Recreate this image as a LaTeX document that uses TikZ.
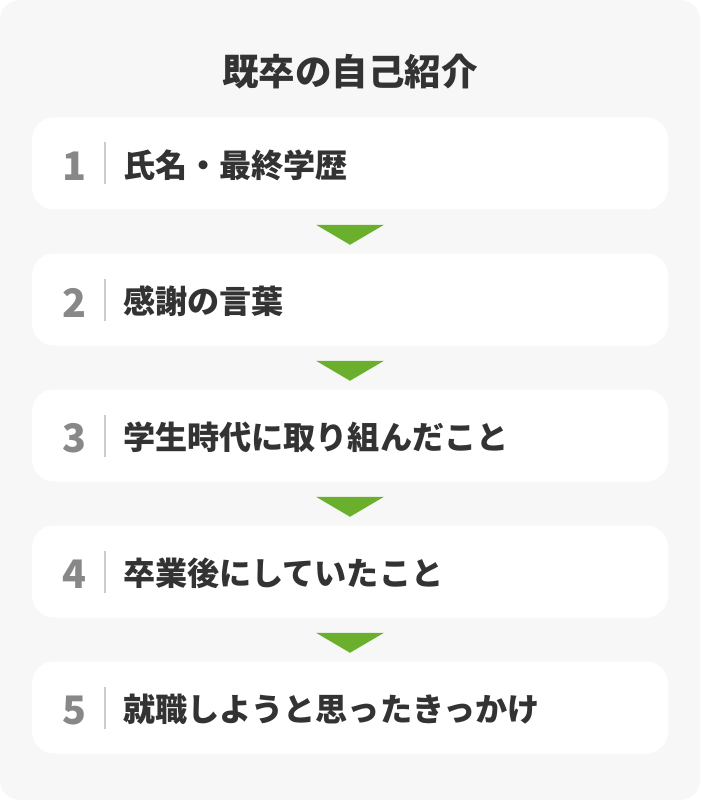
\documentclass[tikz,border=0pt]{standalone}
\usepackage{fontspec}
\newfontfamily\jpfont{Noto Sans CJK JP}
\usetikzlibrary{positioning,calc}
\definecolor{panelgray}{HTML}{F7F7F7}
\definecolor{textdark}{HTML}{333333}
\definecolor{numgray}{HTML}{888888}
\definecolor{linegray}{HTML}{CCCCCC}
\definecolor{arrowgreen}{HTML}{6AB02C}

\begin{document}
\begin{tikzpicture}[x=0.75pt,y=-0.75pt,
    titletext/.style={font=\jpfont\bfseries\fontsize{27.4pt}{31pt}\selectfont,text=textdark},
    itembox/.style={fill=white,rounded corners=16.5pt,minimum width=477pt,minimum height=69pt,inner sep=0pt},
    itemnum/.style={font=\jpfont\bfseries\fontsize{29.5pt}{33pt}\selectfont,text=numgray,inner sep=0pt},
    itemtext/.style={font=\jpfont\bfseries\fontsize{24.1pt}{28pt}\selectfont,text=textdark,inner sep=0pt,anchor=west},
    sepline/.style={draw=linegray,line width=1.5pt}]
  \useasboundingbox (0,0) rectangle (700,802);
  \fill[white] (0,0) rectangle (700,802);
  \fill[panelgray,rounded corners=15pt] (0,0) rectangle (700,800);
  % title
  \node[titletext] (title) at (350,72) {既卒の自己紹介};
  % items
  \foreach \i/\txt in {1/氏名・最終学歴,2/感謝の言葉,3/学生時代に取り組んだこと,4/卒業後にしていたこと,5/就職しようと思ったきっかけ}{
    \node[itembox] (box\i) at (350,{163.5+136*(\i-1)}) {};
    \node[itemnum] (num\i) at ($(box\i.west)+(43,3)$) {\i};
    \draw[sepline] ($(box\i.west)+(73,-21)$) -- ($(box\i.west)+(73,21)$);
    \node[itemtext] (txt\i) at ($(box\i.west)+(91,2)$) {\txt};
  }
  % arrows
  \foreach \i in {1,...,4}{
    \fill[arrowgreen] ($(box\i.south)+(-34,15)$) -- ($(box\i.south)+(34,15)$) -- ($(box\i.south)+(0,35)$) -- cycle;
  }
\end{tikzpicture}
\end{document}
